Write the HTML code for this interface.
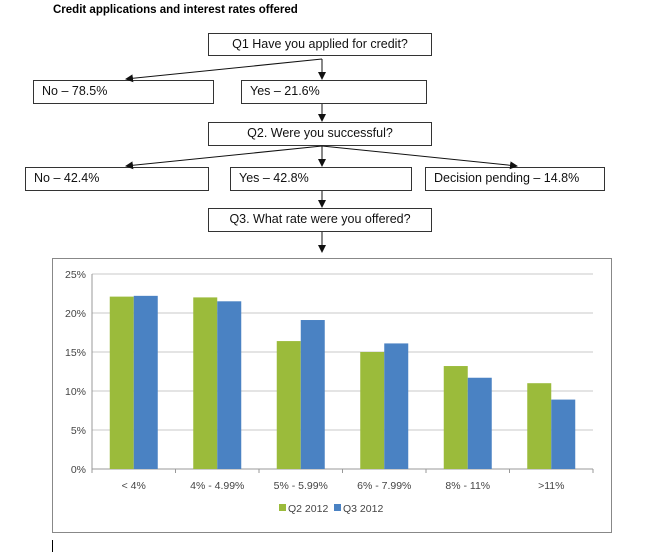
<!DOCTYPE html>
<html><head><meta charset="utf-8"><style>
body{margin:0;width:645px;height:552px;background:#fff;font-family:"Liberation Sans",sans-serif;position:relative;overflow:hidden}
.b{position:absolute;border:1px solid #333;box-sizing:border-box;font-size:12.5px;line-height:20px;color:#111}
.c{text-align:center}
</style></head><body>
<div style="position:absolute;left:53px;top:4px;font-size:11.5px;font-weight:bold">Credit applications and interest rates offered</div>
<div class="b c" style="left:208px;top:33px;width:224px;height:23px">Q1 Have you applied for credit?</div>
<div class="b" style="left:33px;top:80px;width:181px;height:24px;padding-left:8px">No – 78.5%</div>
<div class="b" style="left:241px;top:80px;width:186px;height:24px;padding-left:8px">Yes – 21.6%</div>
<div class="b c" style="left:208px;top:122px;width:224px;height:24px">Q2. Were you successful?</div>
<div class="b" style="left:25px;top:167px;width:184px;height:24px;padding-left:8px">No – 42.4%</div>
<div class="b" style="left:230px;top:167px;width:182px;height:24px;padding-left:8px">Yes – 42.8%</div>
<div class="b" style="left:425px;top:167px;width:180px;height:24px;padding-left:8px">Decision pending – 14.8%</div>
<div class="b c" style="left:208px;top:208px;width:224px;height:24px">Q3. What rate were you offered?</div>
<svg width="645" height="260" style="position:absolute;left:0;top:0">
<defs><marker id="a" markerWidth="8" markerHeight="8" refX="7" refY="4" orient="auto"><path d="M0,0L8,4L0,8z" fill="#111"/></marker></defs>
<g stroke="#111" stroke-width="1" fill="none">
<path d="M322,59L126,79" marker-end="url(#a)"/>
<path d="M322,59V79" marker-end="url(#a)"/>
<path d="M322,104V121" marker-end="url(#a)"/>
<path d="M322,146L126,166" marker-end="url(#a)"/>
<path d="M322,146V166" marker-end="url(#a)"/>
<path d="M322,146L517,166" marker-end="url(#a)"/>
<path d="M322,191V207" marker-end="url(#a)"/>
<path d="M322,232V252" marker-end="url(#a)"/>
</g></svg>
<div style="position:absolute;left:52px;top:258px;width:560px;height:275px;border:1px solid #888;box-sizing:border-box"></div>
<svg id="ch" width="645" height="552" style="position:absolute;left:0;top:0"></svg>
<div style="position:absolute;left:52px;top:540px;width:1px;height:12px;background:#000"></div>
<script>
const categories=["< 4%","4% -     4.99%","5% -     5.99%","6% -     7.99%","8% -     11%",">11%"];
const q2=[22.1,22.0,16.4,15.0,13.2,11.0];
const q3=[22.2,21.5,19.1,16.1,11.7,8.9];
const ticks=[0,5,10,15,20,25];
const svg=document.getElementById('ch'),NS='http://www.w3.org/2000/svg';
const x0=92,x1=593,y0=469,yTop=274;
const y=v=>y0-(v/25)*(y0-yTop);
const cw=(x1-x0)/categories.length;
function mk(t,a,txt){const e=document.createElementNS(NS,t);for(const k in a)e.setAttribute(k,a[k]);if(txt!=null)e.textContent=txt;svg.appendChild(e);return e;}
ticks.forEach(t=>{const l=mk('line',{x1:x0,x2:x1,y1:y(t),y2:y(t),stroke:t?'#c8c8c8':'#999'});


const tx=mk('text',{x:x0-6,y:y(t)+4,'text-anchor':'end','font-size':10.5,fill:'#444'},t+'%');

});
mk('line',{x1:x0,x2:x0,y1:yTop,y2:y0+4,stroke:'#999'});
categories.forEach((c,i)=>{const cx=x0+cw*(i+0.5);
mk('line',{x1:x0+cw*(i+1),x2:x0+cw*(i+1),y1:y0,y2:y0+4,stroke:'#999'});
const g=mk('rect',{x:cx-24,y:y(q2[i]),width:24,height:y0-y(q2[i]),fill:'#9bbb3b'});


const b=mk('rect',{x:cx,y:y(q3[i]),width:24,height:y0-y(q3[i]),fill:'#4a82c3'});


const t=mk('text',{x:cx,y:489,'text-anchor':'middle','font-size':10.5,fill:'#444','xml:space':'preserve'},c);

});
const lg=[["Q2 2012","#9bbb3b",279],["Q3 2012","#4a82c3",334]];
lg.forEach(l=>{const r=mk('rect',{x:l[2],y:504,width:7,height:7,fill:l[1]});


const t=mk('text',{x:l[2]+9,y:512,'font-size':10.5,fill:'#444'},l[0]);

});
</script>
</body></html>
